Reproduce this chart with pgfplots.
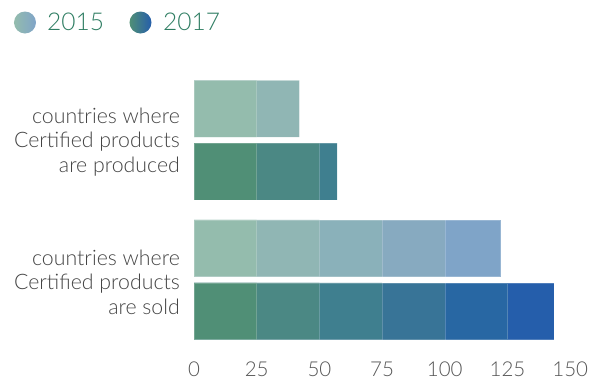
\documentclass[border=0pt]{standalone}
\usepackage{pgfplots}
\pgfplotsset{compat=1.18}
\usepackage{fontspec}
\setmainfont{Lato Light}
\definecolor{Lone}{HTML}{94BCAD}
\definecolor{Ltwo}{HTML}{90B6B4}
\definecolor{Lthree}{HTML}{8AB1BA}
\definecolor{Lfour}{HTML}{87AAC0}
\definecolor{Lfive}{HTML}{7FA4C8}
\definecolor{Done}{HTML}{508F76}
\definecolor{Dtwo}{HTML}{4B8884}
\definecolor{Dthree}{HTML}{3F7F8F}
\definecolor{Dfour}{HTML}{387497}
\definecolor{Dfive}{HTML}{2867A3}
\definecolor{Dsix}{HTML}{255EAB}
\definecolor{legtext}{HTML}{2E7D62}
\definecolor{labtext}{HTML}{444444}
\definecolor{ticktext}{HTML}{555555}
\begin{document}
\begin{tikzpicture}[x=1pt,y=1pt]
\path[use as bounding box] (-194,108.7) rectangle (410,-272.3);
\begin{axis}[
  at={(0,0)}, anchor=origin,
  x=2.508pt, y=62.8pt,
  xmin=0, xmax=150, ymin=-3.763, ymax=0.452,
  xbar, bar shift=0pt, bar width=56.7pt,
  axis line style={draw=none}, tick style={draw=none},
  ytick=\empty, xtick={0,25,50,75,100,125,150},
  /pgf/number format/assume math mode=true,
  xticklabel style={anchor=base, inner sep=0pt, yshift=-31.5pt, text=ticktext, font=\fontsize{20.5}{24}\selectfont},
  every axis plot/.append style={draw=white, draw opacity=0.2, line width=0.5pt},
  clip=false,
]
% 2015 (light)
\addplot[fill=Lfive] coordinates {(122.3,-2.223)};
\addplot[fill=Lfour] coordinates {(100,-2.223)};
\addplot[fill=Lthree] coordinates {(75,-2.223)};
\addplot[fill=Ltwo] coordinates {(42,0) (50,-2.223)};
\addplot[fill=Lone] coordinates {(25,0) (25,-2.223)};
% 2017 (dark)
\addplot[fill=Dsix] coordinates {(143.5,-3.226)};
\addplot[fill=Dfive] coordinates {(125,-3.226)};
\addplot[fill=Dfour] coordinates {(100,-3.226)};
\addplot[fill=Dthree] coordinates {(57.1,-1) (75,-3.226)};
\addplot[fill=Dtwo] coordinates {(50,-1) (50,-3.226)};
\addplot[fill=Done] coordinates {(25,-1) (25,-3.226)};
\end{axis}
% legend
\shade[left color=Lone, right color=Lfive] (-169,86.2) circle (11);
\node[anchor=base west, inner sep=0pt, text=legtext, font=\fontsize{24.5}{28}\selectfont] at (-147,78.7) {2015};
\shade[left color=Done, right color=Dsix] (-53.5,86.2) circle (11);
\node[anchor=base west, inner sep=0pt, text=legtext, font=\fontsize{24.5}{28}\selectfont] at (-31,78.7) {2017};
% category labels
\node[anchor=east, align=right, inner sep=0pt, text=labtext, font=\fontsize{21.3}{24.5}\selectfont] at (-14,-33.3) {countries where\\Certified products\\are produced};
\node[anchor=east, align=right, inner sep=0pt, text=labtext, font=\fontsize{21.3}{24.5}\selectfont] at (-14,-173.3) {countries where\\Certified products\\are sold};
\end{tikzpicture}
\end{document}
